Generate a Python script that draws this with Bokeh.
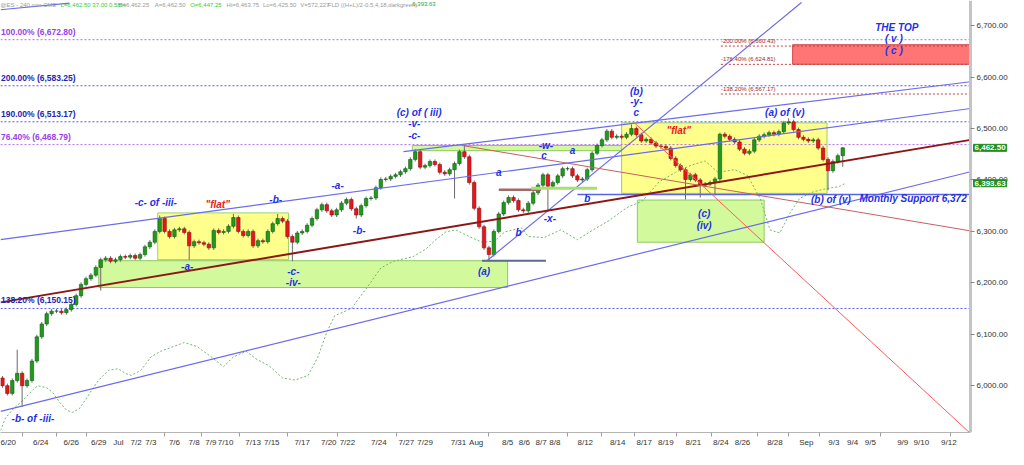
from bokeh.plotting import figure
from bokeh.models import Range1d, FixedTicker, NumeralTickFormatter, Label
from bokeh.core.properties import value
from bokeh.embed import file_html
from bokeh.resources import INLINE

# ---------------- data ----------------
closes = [6000, 5985, 6010, 6024, 6000, 6010, 6048, 6095, 6120, 6140,
          6145, 6145, 6142, 6148, 6158, 6175, 6197, 6208, 6215, 6230,
          6245, 6248, 6242, 6245, 6251, 6250, 6253, 6248, 6255, 6270,
          6279, 6300, 6325, 6300, 6290, 6303, 6305, 6298, 6272, 6280,
          6278, 6275, 6268, 6302, 6298, 6300, 6310, 6327, 6300, 6292,
          6300, 6272, 6282, 6280, 6300, 6315, 6325, 6320, 6290, 6279,
          6297, 6300, 6312, 6325, 6342, 6352, 6340, 6332, 6342, 6355,
          6362, 6344, 6332, 6350, 6364, 6365, 6385, 6401, 6402, 6407,
          6410, 6416, 6422, 6440, 6455, 6425, 6428, 6436, 6430, 6415,
          6412, 6420, 6432, 6455, 6445, 6395, 6345, 6309, 6268, 6255,
          6300, 6334, 6356, 6366, 6360, 6342, 6340, 6355, 6375, 6390,
          6410, 6388, 6395, 6408, 6422, 6422, 6408, 6400, 6402, 6420,
          6452, 6467, 6478, 6495, 6483, 6485, 6483, 6489, 6500, 6488,
          6476, 6479, 6472, 6466, 6465, 6462, 6442, 6428, 6420, 6401,
          6410, 6400, 6390, 6392, 6395, 6402, 6489, 6485, 6479, 6474,
          6460, 6452, 6456, 6478, 6485, 6488, 6492, 6489, 6494, 6511,
          6513, 6498, 6483, 6479, 6476, 6478, 6462, 6440, 6418, 6436,
          6447.25, 6462.5]
first_open = 6015
extreme_highs = {3: 6070, 32: 6331, 47: 6334, 56: 6334, 84: 6460, 94: 6468,
                 128: 6508, 146: 6492, 160: 6520, 171: 6463.75}
extreme_lows = {4: 5959, 20: 6185, 38: 6245, 59: 6242, 72: 6325, 92: 6364,
                99: 6242, 111: 6338, 139: 6362, 142: 6366, 145: 6370,
                168: 6380, 171: 6425.5}

fld_bar = [-0.4, 0.6, 2.2, 4.2, 6.2, 7.2, 9, 10.2, 11.6, 13, 14.2, 15.6, 17, 18.2, 19.6,
           21.6, 23.6, 25, 26.2, 28.2, 30.2, 32.2, 34.2, 37, 39.6, 42.2, 45, 47, 49.6,
           51.6, 54.2, 57, 59.6, 62.2, 64.2, 66, 67.6, 71, 74.2, 77, 79.6, 83.6, 86.2,
           88.2, 90.2, 92.2, 95, 97.6, 100.2, 102.2, 105.6, 107, 110.2, 113.6, 117,
           120.2, 123.6, 127, 130.2, 133.6, 137, 140.2, 143, 145.6, 149, 151.6, 154.2,
           156.2, 158.2, 160.2, 162.2, 165, 167.6, 170.2, 171.6]
fld_price = [5913, 5937, 5955, 5972, 5992, 6000, 5996, 5987, 5968, 5953, 5948, 5955, 5974,
             5992, 6011, 6030, 6033, 6024, 6020, 6030, 6056, 6067, 6074, 6084, 6076, 6058,
             6037, 6056, 6067, 6052, 6039, 6015, 6011, 6020, 6056, 6104, 6136, 6150, 6191,
             6229, 6242, 6251, 6266, 6284, 6299, 6303, 6290, 6279, 6281, 6299, 6307, 6290,
             6288, 6303, 6284, 6303, 6322, 6346, 6359, 6396, 6415, 6429, 6437, 6415, 6420,
             6409, 6364, 6303, 6297, 6335, 6364, 6377, 6383, 6387, 6393.63]

x_tick_pos = [1.0, 7.8, 14, 19.6, 23.6, 27.2, 30.2, 35, 39, 42.4, 45.4, 51, 54.8, 61, 66.4,
              70.2, 76.6, 82.2, 86, 92.8, 96.4, 102.8, 106.2, 109.6, 112.4, 118.6, 125.2,
              130.6, 135, 140.6, 146.2, 150.6, 157.2, 163.6, 169.2, 173, 176.6, 183.2,
              187, 192.6]
x_tick_labels = ["6/20", "6/24", "6/26", "6/29", "Jul", "7/2", "7/3", "7/6", "7/8", "7/9",
                 "7/10", "7/13", "7/15", "7/17", "7/20", "7/22", "7/24", "7/27", "7/29",
                 "7/31", "Aug", "8/5", "8/6", "8/7", "8/8", "8/12", "8/14", "8/17", "8/19",
                 "8/21", "8/24", "8/26", "8/28", "Sep", "9/3", "9/4", "9/5", "9/9", "9/10",
                 "9/12"]
x_separators = [4, 11, 17.2, 33, 40.6, 48.2, 58, 68.2, 80.2, 99, 115, 122, 128.6, 137.2,
                144.2, 153.6, 160, 166.2, 178.6, 193]
y_ticks = [6000, 6100, 6200, 6300, 6400, 6500, 6600, 6700]
last_price, fld_last = 6462.50, 6393.63
axis_bar = 197          # price scale sits at this bar position
chart_start, chart_end = -0.4, 204.73

header_parts = ["@ES - 240 min  CME", "L=6,462.50 37.00 0.58%", "B=6,462.25", "A=6,462.50",
                "O=6,447.25", "Hi=6,463.75", "Lo=6,425.50", "V=572,227",
                "FLD ((H+L)/2-0.5,4,18,darkgreen)", "6,393.63"]
header_x = [-0.4, 11.8, 23.6, 31.0, 38.2, 45.6, 53.0, 60.6, 66.2, 83.4]
header_colors = ["#9a9a9a", "#2fcf2f", "#9a9a9a", "#9a9a9a", "#2fcf2f", "#9a9a9a",
                 "#9a9a9a", "#9a9a9a", "#9a9a9a", "#2f9f2f"]

# fibonacci levels
fib_full_levels = [6672.80, 6583.25, 6513.17, 6468.79, 6150.15]
fib_full_labels = ["100.00% (6,672.80)", "200.00% (6,583.25)", "190.00% (6,513.17)",
                   "76.40% (6,468.79)", "138.20% (6,150.15)"]
fib_full_colors = ["#b36bf2", "#5b5bf0", "#5b5bf0", "#b36bf2", "#5b5bf0"]
fib_text_colors = ["#9a3fe6", "#2424b0", "#2424b0", "#9a3fe6", "#2424b0"]
fib_right_levels = [6660.43, 6624.81, 6567.17]
fib_right_labels = ["-200.00% (6,660.43)", "-176.40% (6,624.81)", "-138.20% (6,567.17)"]
fib_right_start = 146.2

# boxes
yellow_left, yellow_right = [31.6, 126], [58.2, 167.8]
yellow_bottom, yellow_top = [6245, 6374], [6336, 6511]
green_left, green_right = [19.6, 129.2, 83.4], [102.8, 155, 148]
green_bottom, green_top = [6191, 6279, 6457], [6243, 6361, 6467]
target_left, target_right, target_bottom, target_top = [160.8], [197], [6625], [6663]

# trend lines (bar, price) endpoints
blue_x0 = [-0.4, 81.6, -0.4, 98.6, -0.4]
blue_y0 = [6284, 6455, 5950, 6243, 6731]
blue_x1 = [197, 197, 197, 162.6, 13.6]
blue_y1 = [6539, 6591, 6416, 6745, 6744]
support_x0, support_x1, support_level = 117, 197, 6372
trend_red = [(-0.4, 6162), (197, 6478)]
thin_red = [(93.6, 6467), (197, 6301)]
steep_red = [(128.6, 6511), (197, 5907)]

wave_text = ["-b- of -iii-", "-c- of -iii-", "-a-", "-b-", "-c-", "-iv-", "-a-", "-b-",
             "(c) of ( iii)", "-v-", "-c-", "a", "(a)", "b", "-x-", "c", "-w-", "a", "b",
             "(b)", "-y-", "c", "(a) of (v)", "(c)", "(iv)", "(b) of (v)"]
wave_x = [6.2, 31.2, 37.6, 55.6, 59.2, 59.2, 68.2, 72.6, 84.8, 83.8, 83.8, 101, 98, 105,
          111.4, 110.2, 110.6, 116, 119, 129, 129, 129, 159.2, 142.8, 142.8, 168.6]
wave_y = [5937, 6357, 6232, 6362, 6223, 6201, 6390, 6301, 6532, 6509, 6487, 6414, 6223,
          6297, 6325, 6448, 6468, 6457, 6364, 6572, 6552, 6532, 6532, 6335, 6312, 6362]
flat_x, flat_y = [43.8, 137.6], [6353, 6496]
top_text = ["THE TOP", "( v )", "( c )"]
top_x, top_y = [182, 181.4, 181.4], [6697, 6675, 6651]

# ---------------- figure ----------------
p = figure(width=1008, height=449, x_range=Range1d(chart_start, chart_end),
           y_range=Range1d(5909, 6749),
           output_backend="svg", toolbar_location=None, y_axis_location="right",
           min_border_left=0, min_border_top=0, min_border_bottom=0, min_border_right=0)
p.outline_line_color = None
p.grid.visible = False
p.background_fill_color = "white"

FONT = value("Liberation Sans")

# boxes
p.quad(left=green_left, right=green_right, bottom=green_bottom, top=green_top,
       fill_color="#d2fa9c", line_color="#8ccb5c", line_width=1)
p.quad(left=yellow_left, right=yellow_right, bottom=yellow_bottom, top=yellow_top,
       fill_color="#ffff8c", line_color="#9ccf70", line_width=1)
p.quad(left=target_left, right=target_right, bottom=target_bottom, top=target_top,
       fill_color="#ff7474", line_color="#d04848", line_width=1)

# fib dotted lines
p.segment(x0=[chart_start] * len(fib_full_levels), x1=[axis_bar] * len(fib_full_levels),
          y0=fib_full_levels, y1=fib_full_levels, line_color=fib_full_colors,
          line_dash="2 2", line_width=1)
p.segment(x0=[fib_right_start] * 3, x1=[axis_bar] * 3, y0=fib_right_levels,
          y1=fib_right_levels, line_color="#c04040", line_dash="2 2", line_width=1)

# FLD
p.line(fld_bar, fld_price, line_color="#6fb86f", line_dash="2 2", line_width=1)

# candles
xs = list(range(len(closes)))
opens = [first_open] + closes[:-1]
highs = [extreme_highs.get(i, max(o, c) + 4) for i, (o, c) in enumerate(zip(opens, closes))]
lows = [extreme_lows.get(i, min(o, c) - 4) for i, (o, c) in enumerate(zip(opens, closes))]
p.segment(x0=xs, x1=xs, y0=lows, y1=highs, line_color="#6a6a6a", line_width=1)
up = [i for i in xs if closes[i] >= opens[i]]
dn = [i for i in xs if closes[i] < opens[i]]
p.vbar(x=up, width=0.7, bottom=[opens[i] for i in up], top=[closes[i] for i in up],
       fill_color="#1f9a1f", line_color="#0d5c0d", line_width=0.6)
p.vbar(x=dn, width=0.7, bottom=[closes[i] for i in dn], top=[opens[i] for i in dn],
       fill_color="#e8161c", line_color="#8c0c0c", line_width=0.6)

# trend lines
p.segment(x0=blue_x0, y0=blue_y0, x1=blue_x1, y1=blue_y1, line_color="#6c6cea", line_width=1.2)
p.segment(x0=[support_x0], x1=[support_x1], y0=[support_level], y1=[support_level],
          line_color="#5a64e6", line_width=1.5)
p.segment(x0=[97.6], x1=[110.6], y0=[6243], y1=[6243], line_color="#5b6b8b", line_width=2)
p.segment(x0=[101], x1=[109.6], y0=[6381], y1=[6381], line_color="#a06a6a", line_width=2.5)
p.segment(x0=[107.6], x1=[121], y0=[6384], y1=[6384], line_color="#a8e070", line_width=3)
p.line([trend_red[0][0], trend_red[1][0]], [trend_red[0][1], trend_red[1][1]],
       line_color="#8e1616", line_width=2)
p.line([thin_red[0][0], thin_red[1][0]], [thin_red[0][1], thin_red[1][1]],
       line_color="#c46060", line_width=1)
p.line([steep_red[0][0], steep_red[1][0]], [steep_red[0][1], steep_red[1][1]],
       line_color="#ff5a5a", line_width=1)

# texts
p.text(x=wave_x, y=wave_y, text=wave_text, text_font=FONT, text_font_style="bold italic",
       text_font_size="10px", text_color="#1f2fe6", text_align="center",
       text_baseline="middle")
p.text(x=flat_x, y=flat_y, text=['"flat"', '"flat"'], text_font=FONT,
       text_font_style="bold italic", text_font_size="10px", text_color="#e62020",
       text_align="center", text_baseline="middle")
p.text(x=top_x, y=top_y, text=top_text, text_font=FONT, text_font_style="bold italic",
       text_font_size="10px", text_color="#1f2fe6", text_align="center",
       text_baseline="middle")
p.text(x=[174.4], y=[6364], text=["Monthly Support 6,372"], text_font=FONT,
       text_font_style="bold italic", text_font_size="10px", text_color="#1f2fe6",
       text_align="left", text_baseline="middle")
p.text(x=[-0.3] * len(fib_full_levels), y=[lv + 6 for lv in fib_full_levels],
       text=fib_full_labels, text_font=FONT, text_font_style="bold", text_font_size="8.5px",
       text_color=fib_text_colors, text_align="left", text_baseline="bottom")
p.text(x=[fib_right_start] * 3, y=[lv + 4 for lv in fib_right_levels], text=fib_right_labels,
       text_font=FONT, text_font_size="6px", text_color="#a02828", text_align="left",
       text_baseline="bottom")

# header
p.text(x=header_x, y=[6747] * len(header_x), text=header_parts, text_color=header_colors,
       text_font=FONT, text_font_size="6px", text_baseline="top")

# price tags on the price scale
for val, txt in [(last_price, "6,462.50"), (fld_last, "6,393.63")]:
    p.add_layout(Label(x=axis_bar, y=val, x_offset=3, text=txt,
                       text_font="Liberation Sans", level="overlay",
                       text_font_size="8px", text_font_style="bold", text_color="white",
                       text_baseline="middle", background_fill_color="#1f8f1f",
                       border_line_color="#1f8f1f", padding=1))

# axes
p.yaxis.fixed_location = axis_bar
p.yaxis.ticker = FixedTicker(ticks=y_ticks)
p.yaxis.formatter = NumeralTickFormatter(format="0,0.00")
p.yaxis.major_label_text_font = "Liberation Sans"
p.yaxis.major_label_text_font_size = "8px"
p.yaxis.major_label_text_color = "#333333"
p.yaxis.axis_line_color = "#c4c4c4"
p.yaxis.axis_line_width = 3
p.yaxis.major_tick_line_color = "#888888"
p.yaxis.major_tick_out = 4
p.yaxis.major_tick_in = 0
p.yaxis.minor_tick_line_color = None
p.yaxis.major_label_standoff = 2

p.xaxis.ticker = FixedTicker(ticks=x_tick_pos, minor_ticks=x_separators)
p.xaxis.major_label_overrides = {t: l for t, l in zip(x_tick_pos, x_tick_labels)}
p.xaxis.bounds = (chart_start, axis_bar)
p.xaxis.major_label_text_font = "Liberation Sans"
p.xaxis.major_label_text_font_size = "8px"
p.xaxis.major_label_text_color = "#333333"
p.xaxis.axis_line_color = "#b4b4b4"
p.xaxis.major_tick_line_color = None
p.xaxis.major_tick_out = 4
p.xaxis.major_tick_in = 0
p.xaxis.minor_tick_line_color = "#a0a0a0"
p.xaxis.minor_tick_out = 4
p.xaxis.minor_tick_in = 0
p.xaxis.major_label_standoff = 1

open("out.html", "w").write(file_html(p, INLINE))
